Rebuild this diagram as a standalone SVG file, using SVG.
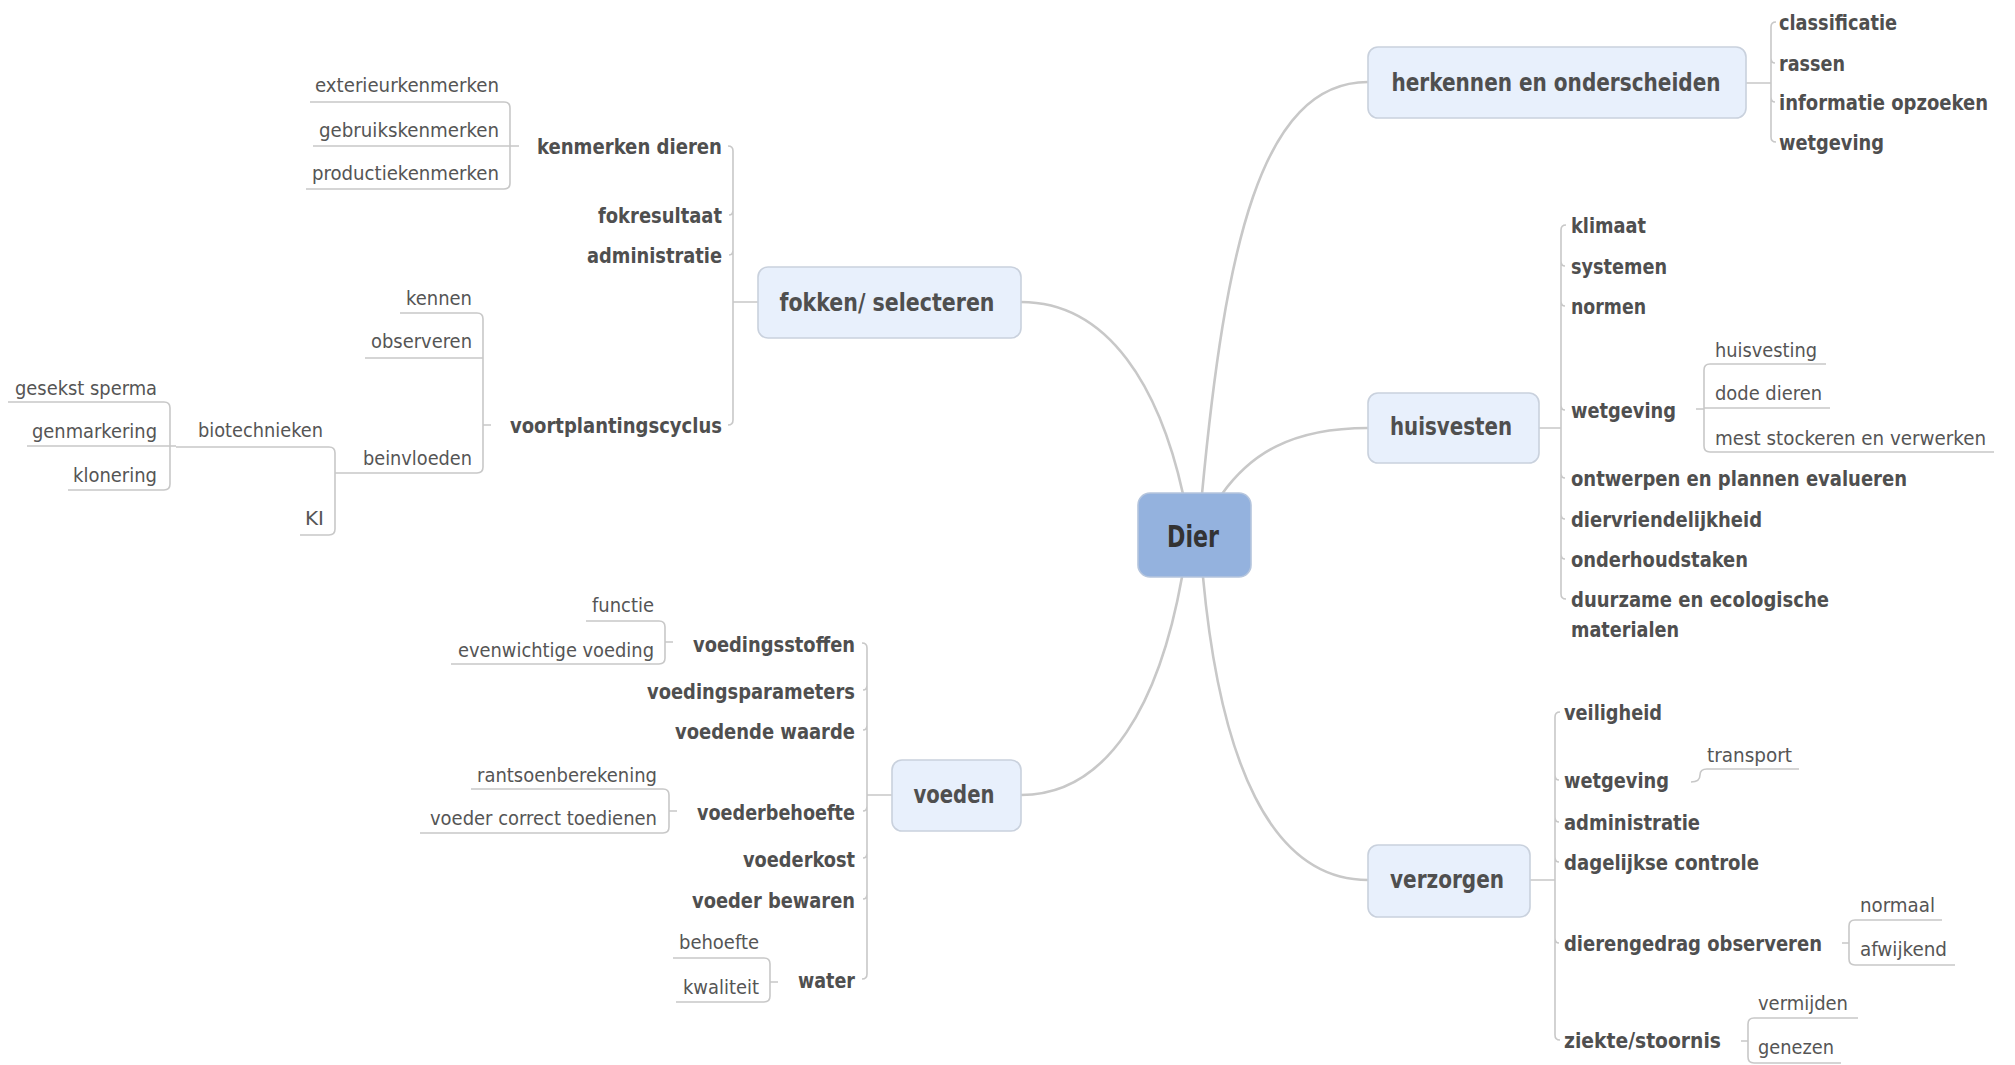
<svg xmlns="http://www.w3.org/2000/svg" width="2015" height="1065" viewBox="0 0 2015 1065">
<style>
text{font-family:"DejaVu Sans Condensed","DejaVu Sans","Liberation Sans",sans-serif;fill:#4f4f4f}
.b{font-weight:bold;font-size:21px}
.l{font-size:19px;fill:#555}
.m{font-weight:bold;font-size:24px;text-anchor:middle}
.box{fill:#e8f0fc;stroke:#c9d1dd;stroke-width:1.6}
.c{fill:none;stroke:#c8c8c8;stroke-width:2.6;stroke-linecap:round}
.k{fill:none;stroke:#c8c8c8;stroke-width:1.6}
</style>
<rect width="2015" height="1065" fill="#fff"/>
<g id="connectors">
<path class="c" d="M1202 494 C1225 250 1260 82 1368 82"/>
<path class="c" d="M1222 494 C1250 455 1290 428 1368 428"/>
<path class="c" d="M1183 494 C1160 390 1110 302 1021 302"/>
<path class="c" d="M1182 577 C1160 700 1110 795 1021 795"/>
<path class="c" d="M1203 577 C1220 760 1270 880 1368 880"/>
<!-- herkennen -->
<path class="k" d="M1746 83 H1771 M1776 22 Q1771 22 1771 27 V137 Q1771 142 1776 142 M1771 58 Q1771 63 1775 63 M1771 97 Q1771 102 1775 102"/>
<!-- huisvesten -->
<path class="k" d="M1539 428 H1561 M1566 225 Q1561 225 1561 230 V594 Q1561 599 1566 599 M1561 261 Q1561 266 1565 266 M1561 301 Q1561 306 1565 306 M1561 405 Q1561 410 1565 410 M1561 473 Q1561 478 1565 478 M1561 514 Q1561 519 1565 519 M1561 554 Q1561 559 1565 559"/>
<path class="k" d="M1696 409 H1704 M1826 364 H1710 Q1704 364 1704 370 V446 Q1704 452 1710 452 H1994 M1704 408 H1830"/>
<!-- verzorgen -->
<path class="k" d="M1530 880 H1555 M1560 712 Q1555 712 1555 717 V1035 Q1555 1040 1560 1040 M1555 775 Q1555 780 1559 780 M1555 817 Q1555 822 1559 822 M1555 857 Q1555 862 1559 862 M1555 938 Q1555 943 1559 943"/>
<path class="k" d="M1691 782 Q1700 782 1700 775 Q1700 769 1707 769 H1799"/>
<path class="k" d="M1842 943 H1849 M1942 920 H1855 Q1849 920 1849 926 V959 Q1849 965 1855 965 H1955"/>
<path class="k" d="M1741 1041 H1748 M1858 1018 H1754 Q1748 1018 1748 1024 V1057 Q1748 1063 1754 1063 H1841"/>
<!-- fokken -->
<path class="k" d="M758 302 H733 M728 146 Q733 146 733 151 V420 Q733 425 728 425 M733 210 Q733 215 729 215 M733 250 Q733 255 729 255"/>
<path class="k" d="M519 146 H510 M310 102 H504 Q510 102 510 108 V183 Q510 189 504 189 H306 M313 146 H510"/>
<path class="k" d="M491 425 H483 M400 313 H477 Q483 313 483 319 V467 Q483 473 477 473 H335 M365 358 H483"/>
<path class="k" d="M176 447 H329 Q335 447 335 453 V529 Q335 535 329 535 H300"/>
<path class="k" d="M8 402 H164 Q170 402 170 408 V484 Q170 490 164 490 H68 M27 446 H176"/>
<!-- voeden -->
<path class="k" d="M892 795 H867 M862 643 Q867 643 867 648 V974 Q867 979 862 979 M867 685 Q867 690 863 690 M867 725 Q867 730 863 730 M867 806 Q867 811 863 811 M867 853 Q867 858 863 858 M867 894 Q867 899 863 899"/>
<path class="k" d="M673 642 H665 M586 621 H659 Q665 621 665 627 V658 Q665 664 659 664 H451"/>
<path class="k" d="M677 811 H669 M471 789 H663 Q669 789 669 795 V827 Q669 833 663 833 H420"/>
<path class="k" d="M778 982 H770 M673 958 H764 Q770 958 770 964 V996 Q770 1002 764 1002 H676"/>
</g>
<g id="dier">
<rect x="1138" y="493" width="113" height="84" rx="12" fill="#94b2de" stroke="#b5c5dd" stroke-width="1.6"/>
<text x="1167" y="547" font-size="30" font-weight="bold" style="fill:#333" textLength="52" lengthAdjust="spacingAndGlyphs">Dier</text>
</g>
<g id="herkennen">
<rect class="box" x="1368" y="47" width="378" height="71" rx="10"/>
<text class="m" x="1556" y="91" textLength="329" lengthAdjust="spacingAndGlyphs">herkennen en onderscheiden</text>
</g>
<g id="herkennen-children">
<text class="b" x="1779" y="30" textLength="118" lengthAdjust="spacingAndGlyphs">classificatie</text>
<text class="b" x="1779" y="71" textLength="66" lengthAdjust="spacingAndGlyphs">rassen</text>
<text class="b" x="1779" y="110" textLength="209" lengthAdjust="spacingAndGlyphs">informatie opzoeken</text>
<text class="b" x="1779" y="150" textLength="105" lengthAdjust="spacingAndGlyphs">wetgeving</text>
</g>
<g id="huisvesten">
<rect class="box" x="1368" y="393" width="171" height="70" rx="10"/>
<text class="m" x="1451" y="435" textLength="122" lengthAdjust="spacingAndGlyphs">huisvesten</text>
</g>
<g id="huisvesten-children">
<text class="b" x="1571" y="233" textLength="75" lengthAdjust="spacingAndGlyphs">klimaat</text>
<text class="b" x="1571" y="274" textLength="96" lengthAdjust="spacingAndGlyphs">systemen</text>
<text class="b" x="1571" y="314" textLength="75" lengthAdjust="spacingAndGlyphs">normen</text>
<text class="b" x="1571" y="418" textLength="105" lengthAdjust="spacingAndGlyphs">wetgeving</text>
<text class="b" x="1571" y="486" textLength="336" lengthAdjust="spacingAndGlyphs">ontwerpen en plannen evalueren</text>
<text class="b" x="1571" y="527" textLength="191" lengthAdjust="spacingAndGlyphs">diervriendelijkheid</text>
<text class="b" x="1571" y="567" textLength="177" lengthAdjust="spacingAndGlyphs">onderhoudstaken</text>
<text class="b" x="1571" y="607" textLength="258" lengthAdjust="spacingAndGlyphs">duurzame en ecologische</text>
<text class="b" x="1571" y="637" textLength="108" lengthAdjust="spacingAndGlyphs">materialen</text>
<text class="l" x="1715" y="357" textLength="102" lengthAdjust="spacingAndGlyphs">huisvesting</text>
<text class="l" x="1715" y="400" textLength="107" lengthAdjust="spacingAndGlyphs">dode dieren</text>
<text class="l" x="1715" y="445" textLength="271" lengthAdjust="spacingAndGlyphs">mest stockeren en verwerken</text>
</g>
<g id="verzorgen">
<rect class="box" x="1368" y="845" width="162" height="72" rx="10"/>
<text class="m" x="1447" y="888" textLength="114" lengthAdjust="spacingAndGlyphs">verzorgen</text>
</g>
<g id="verzorgen-children">
<text class="b" x="1564" y="720" textLength="98" lengthAdjust="spacingAndGlyphs">veiligheid</text>
<text class="b" x="1564" y="788" textLength="105" lengthAdjust="spacingAndGlyphs">wetgeving</text>
<text class="b" x="1564" y="830" textLength="136" lengthAdjust="spacingAndGlyphs">administratie</text>
<text class="b" x="1564" y="870" textLength="195" lengthAdjust="spacingAndGlyphs">dagelijkse controle</text>
<text class="b" x="1564" y="951" textLength="258" lengthAdjust="spacingAndGlyphs">dierengedrag observeren</text>
<text class="b" x="1564" y="1048" textLength="157" lengthAdjust="spacingAndGlyphs">ziekte/stoornis</text>
<text class="l" x="1707" y="762" textLength="85" lengthAdjust="spacingAndGlyphs">transport</text>
<text class="l" x="1860" y="912" textLength="75" lengthAdjust="spacingAndGlyphs">normaal</text>
<text class="l" x="1860" y="956" textLength="87" lengthAdjust="spacingAndGlyphs">afwijkend</text>
<text class="l" x="1758" y="1010" textLength="90" lengthAdjust="spacingAndGlyphs">vermijden</text>
<text class="l" x="1758" y="1054" textLength="76" lengthAdjust="spacingAndGlyphs">genezen</text>
</g>
<g id="fokken">
<rect class="box" x="758" y="267" width="263" height="71" rx="10"/>
<text class="m" x="887" y="311" textLength="215" lengthAdjust="spacingAndGlyphs">fokken/ selecteren</text>
</g>
<g id="fokken-children">
<text class="b" x="537" y="154" textLength="185" lengthAdjust="spacingAndGlyphs">kenmerken dieren</text>
<text class="b" x="598" y="223" textLength="124" lengthAdjust="spacingAndGlyphs">fokresultaat</text>
<text class="b" x="587" y="263" textLength="135" lengthAdjust="spacingAndGlyphs">administratie</text>
<text class="b" x="510" y="433" textLength="212" lengthAdjust="spacingAndGlyphs">voortplantingscyclus</text>
<text class="l" x="315" y="92" textLength="184" lengthAdjust="spacingAndGlyphs">exterieurkenmerken</text>
<text class="l" x="319" y="137" textLength="180" lengthAdjust="spacingAndGlyphs">gebruikskenmerken</text>
<text class="l" x="312" y="180" textLength="187" lengthAdjust="spacingAndGlyphs">productiekenmerken</text>
<text class="l" x="406" y="305" textLength="66" lengthAdjust="spacingAndGlyphs">kennen</text>
<text class="l" x="371" y="348" textLength="101" lengthAdjust="spacingAndGlyphs">observeren</text>
<text class="l" x="363" y="465" textLength="109" lengthAdjust="spacingAndGlyphs">beinvloeden</text>
<text class="l" x="198" y="437" textLength="125" lengthAdjust="spacingAndGlyphs">biotechnieken</text>
<text class="l" x="305" y="525" textLength="19" lengthAdjust="spacingAndGlyphs">KI</text>
<text class="l" x="15" y="395" textLength="142" lengthAdjust="spacingAndGlyphs">gesekst sperma</text>
<text class="l" x="32" y="438" textLength="125" lengthAdjust="spacingAndGlyphs">genmarkering</text>
<text class="l" x="73" y="482" textLength="84" lengthAdjust="spacingAndGlyphs">klonering</text>
</g>
<g id="voeden">
<rect class="box" x="892" y="760" width="129" height="71" rx="10"/>
<text class="m" x="954" y="803" textLength="81" lengthAdjust="spacingAndGlyphs">voeden</text>
</g>
<g id="voeden-children">
<text class="b" x="693" y="652" textLength="162" lengthAdjust="spacingAndGlyphs">voedingsstoffen</text>
<text class="b" x="647" y="699" textLength="208" lengthAdjust="spacingAndGlyphs">voedingsparameters</text>
<text class="b" x="675" y="739" textLength="180" lengthAdjust="spacingAndGlyphs">voedende waarde</text>
<text class="b" x="697" y="820" textLength="158" lengthAdjust="spacingAndGlyphs">voederbehoefte</text>
<text class="b" x="743" y="867" textLength="112" lengthAdjust="spacingAndGlyphs">voederkost</text>
<text class="b" x="692" y="908" textLength="163" lengthAdjust="spacingAndGlyphs">voeder bewaren</text>
<text class="b" x="798" y="988" textLength="57" lengthAdjust="spacingAndGlyphs">water</text>
<text class="l" x="592" y="612" textLength="62" lengthAdjust="spacingAndGlyphs">functie</text>
<text class="l" x="458" y="657" textLength="196" lengthAdjust="spacingAndGlyphs">evenwichtige voeding</text>
<text class="l" x="477" y="782" textLength="180" lengthAdjust="spacingAndGlyphs">rantsoenberekening</text>
<text class="l" x="430" y="825" textLength="227" lengthAdjust="spacingAndGlyphs">voeder correct toedienen</text>
<text class="l" x="679" y="949" textLength="80" lengthAdjust="spacingAndGlyphs">behoefte</text>
<text class="l" x="683" y="994" textLength="76" lengthAdjust="spacingAndGlyphs">kwaliteit</text>
</g>
</svg>
